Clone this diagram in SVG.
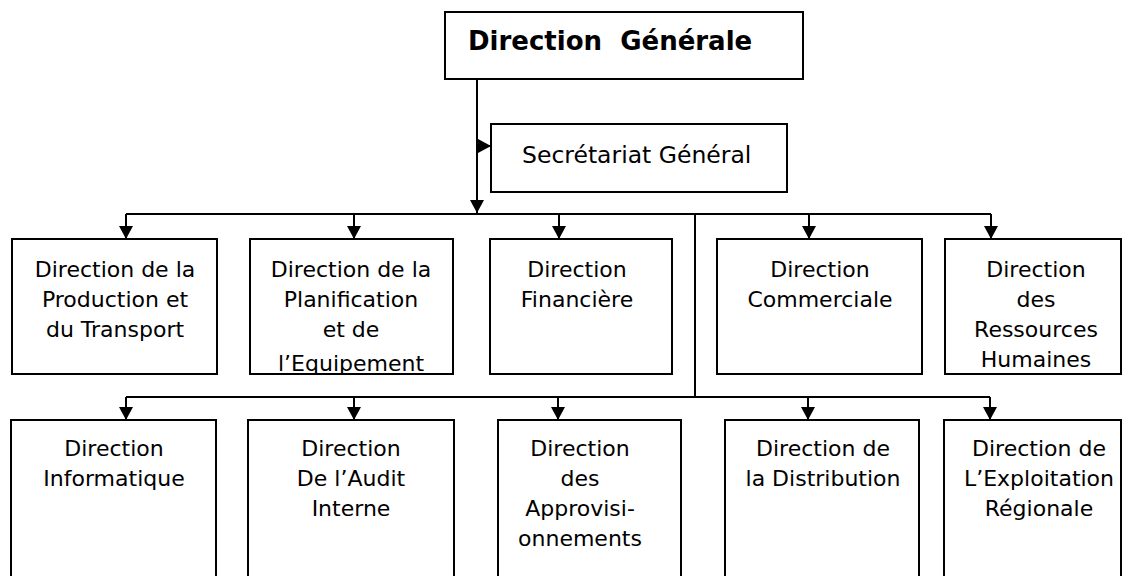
<svg xmlns="http://www.w3.org/2000/svg" width="1123" height="576" viewBox="0 0 1123 576">
<style>
.box{fill:#fff;stroke:#000;stroke-width:2}
.t{font-family:"DejaVu Sans","Liberation Sans",sans-serif;font-size:22px;fill:#000;text-anchor:middle}
.c{fill:none;stroke:#000;stroke-width:2}
</style>
<defs>
<marker id="ah" markerUnits="userSpaceOnUse" markerWidth="14" markerHeight="14" refX="13" refY="7" orient="auto">
<path d="M0,0 L13,7 L0,14 z" fill="#000"/>
</marker>
<clipPath id="clipB2"><rect x="251" y="240" width="201" height="133"/></clipPath>
</defs>
<rect width="1123" height="576" fill="#fff"/>
<g id="connectors">
<path class="c" d="M477,79 V213" marker-end="url(#ah)"/>
<path class="c" d="M477,146 H491" marker-end="url(#ah)"/>
<path class="c" d="M126,214 H991"/>
<path class="c" d="M126,214 V239" marker-end="url(#ah)"/>
<path class="c" d="M354,214 V239" marker-end="url(#ah)"/>
<path class="c" d="M559,214 V239" marker-end="url(#ah)"/>
<path class="c" d="M809,214 V239" marker-end="url(#ah)"/>
<path class="c" d="M991,214 V239" marker-end="url(#ah)"/>
<path class="c" d="M695,214 V397"/>
<path class="c" d="M126,397 H990"/>
<path class="c" d="M126,397 V420" marker-end="url(#ah)"/>
<path class="c" d="M354,397 V420" marker-end="url(#ah)"/>
<path class="c" d="M558,397 V420" marker-end="url(#ah)"/>
<path class="c" d="M808,397 V420" marker-end="url(#ah)"/>
<path class="c" d="M990,397 V420" marker-end="url(#ah)"/>
</g>
<g id="dg">
<rect class="box" x="445" y="12" width="358" height="67"/>
<text x="468" y="50" xml:space="preserve" style="font-family:'DejaVu Sans','Liberation Sans',sans-serif;font-size:26px;font-weight:bold">Direction  Générale</text>
</g>
<g id="sg">
<rect class="box" x="491" y="124" width="296" height="68"/>
<text x="522" y="163" style="font-family:'DejaVu Sans','Liberation Sans',sans-serif;font-size:23.5px">Secrétariat Général</text>
</g>
<g id="r1b1">
<rect class="box" x="12" y="239" width="205" height="135"/>
<text class="t" x="115" y="277">Direction de la</text>
<text class="t" x="115" y="307">Production et</text>
<text class="t" x="115" y="337">du Transport</text>
</g>
<g id="r1b2">
<rect class="box" x="250" y="239" width="203" height="135"/>
<text class="t" x="351" y="277">Direction de la</text>
<text class="t" x="351" y="307">Planification</text>
<text class="t" x="351" y="337">et de</text>
<text class="t" x="351" y="371" clip-path="url(#clipB2)">l’Equipement</text>
</g>
<g id="r1b3">
<rect class="box" x="490" y="239" width="182" height="135"/>
<text class="t" x="577" y="277">Direction</text>
<text class="t" x="577" y="307">Financière</text>
</g>
<g id="r1b4">
<rect class="box" x="717" y="239" width="205" height="135"/>
<text class="t" x="820" y="277">Direction</text>
<text class="t" x="820" y="307">Commerciale</text>
</g>
<g id="r1b5">
<rect class="box" x="945" y="239" width="176" height="135"/>
<text class="t" x="1036" y="277">Direction</text>
<text class="t" x="1036" y="307">des</text>
<text class="t" x="1036" y="337">Ressources</text>
<text class="t" x="1036" y="367">Humaines</text>
</g>
<g id="r2b1">
<rect class="box" x="11" y="420" width="205" height="170"/>
<text class="t" x="114" y="456">Direction</text>
<text class="t" x="114" y="486">Informatique</text>
</g>
<g id="r2b2">
<rect class="box" x="248" y="420" width="206" height="170"/>
<text class="t" x="351" y="456">Direction</text>
<text class="t" x="351" y="486">De l’Audit</text>
<text class="t" x="351" y="516">Interne</text>
</g>
<g id="r2b3">
<rect class="box" x="498" y="420" width="183" height="170"/>
<text class="t" x="580" y="456">Direction</text>
<text class="t" x="580" y="486">des</text>
<text class="t" x="580" y="516">Approvisi-</text>
<text class="t" x="580" y="546">onnements</text>
</g>
<g id="r2b4">
<rect class="box" x="725" y="420" width="194" height="170"/>
<text class="t" x="823" y="456">Direction de</text>
<text class="t" x="823" y="486">la Distribution</text>
</g>
<g id="r2b5">
<rect class="box" x="944" y="420" width="177" height="170"/>
<text class="t" x="1039" y="456">Direction de</text>
<text class="t" x="1039" y="486">L’Exploitation</text>
<text class="t" x="1039" y="516">Régionale</text>
</g>
</svg>
